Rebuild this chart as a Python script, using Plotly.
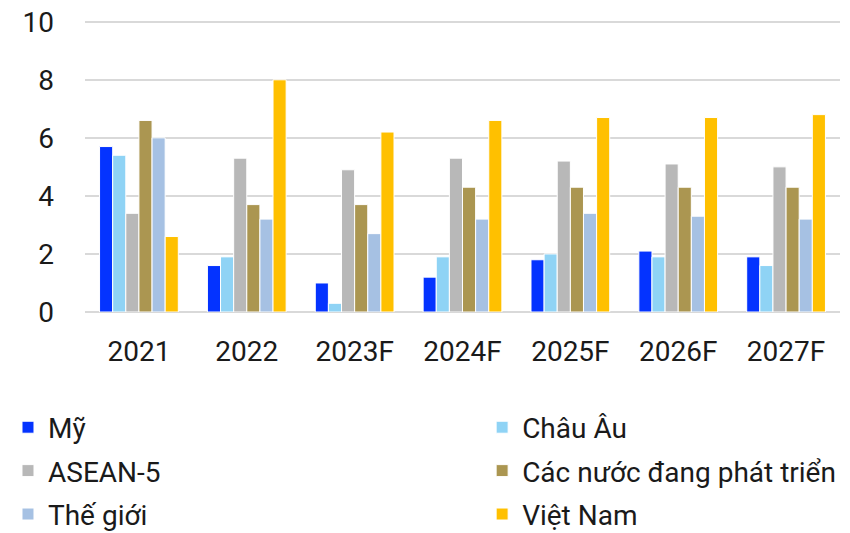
import plotly.graph_objects as go

years = ['2021', '2022', '2023F', '2024F', '2025F', '2026F', '2027F']

my = [5.7, 1.6, 1.0, 1.2, 1.8, 2.1, 1.9]
chau_au = [5.4, 1.9, 0.3, 1.9, 2.0, 1.9, 1.6]
asean5 = [3.4, 5.3, 4.9, 5.3, 5.2, 5.1, 5.0]
dang_phat_trien = [6.6, 3.7, 3.7, 4.3, 4.3, 4.3, 4.3]
the_gioi = [6.0, 3.2, 2.7, 3.2, 3.4, 3.3, 3.2]
viet_nam = [2.6, 8.0, 6.2, 6.6, 6.7, 6.7, 6.8]

# name, values, colour, which legend column
series = [
    ('Mỹ', my, '#0433FF', 'legend'),
    ('Châu Âu', chau_au, '#8FD3F5', 'legend2'),
    ('ASEAN-5', asean5, '#B8B8B8', 'legend'),
    ('Các nước đang phát triển', dang_phat_trien, '#AB9651', 'legend2'),
    ('Thế giới', the_gioi, '#A6C1E3', 'legend'),
    ('Việt Nam', viet_nam, '#FFC000', 'legend2'),
]

fig = go.Figure()
for name, vals, color, leg in series:
    fig.add_trace(go.Bar(
        x=years, y=vals, name=name,
        legend=leg, legendgroup=name,
        marker=dict(color=color, line=dict(color='white', width=1)),
    ))

font_name = 'Roboto'
fs = 28
legend_style = dict(
    orientation='v',
    y=-0.31, yanchor='top',
    font=dict(size=28, color='#1a1a1a'),
    itemwidth=30,
    tracegroupgap=4,
    bgcolor='rgba(0,0,0,0)',
)

fig.update_layout(
    width=850, height=533,
    barmode='group',
    bargap=0.27,
    bargroupgap=0,
    plot_bgcolor='white',
    paper_bgcolor='white',
    margin=dict(l=77, r=18, t=12, b=229, autoexpand=False),
    font=dict(family=font_name, size=fs, color='#1a1a1a'),
    showlegend=True,
    legend=dict(x=-0.102, xanchor='left', **legend_style),
    legend2=dict(x=0.526, xanchor='left', **legend_style),
    xaxis=dict(showline=False, ticks='', tickfont=dict(size=fs), ticklabelstandoff=20),
    yaxis=dict(
        range=[0, 10.06], tickvals=[0, 2, 4, 6, 8, 10],
        showgrid=True, gridcolor='#D9D9D9', gridwidth=1.5,
        zeroline=True, zerolinecolor='#D9D9D9', zerolinewidth=1.5,
        showline=False, ticks='', ticklabelstandoff=30,
        ticklabeloverflow='allow',
        tickfont=dict(size=fs),
    ),
)

fig.write_html('out.html')
